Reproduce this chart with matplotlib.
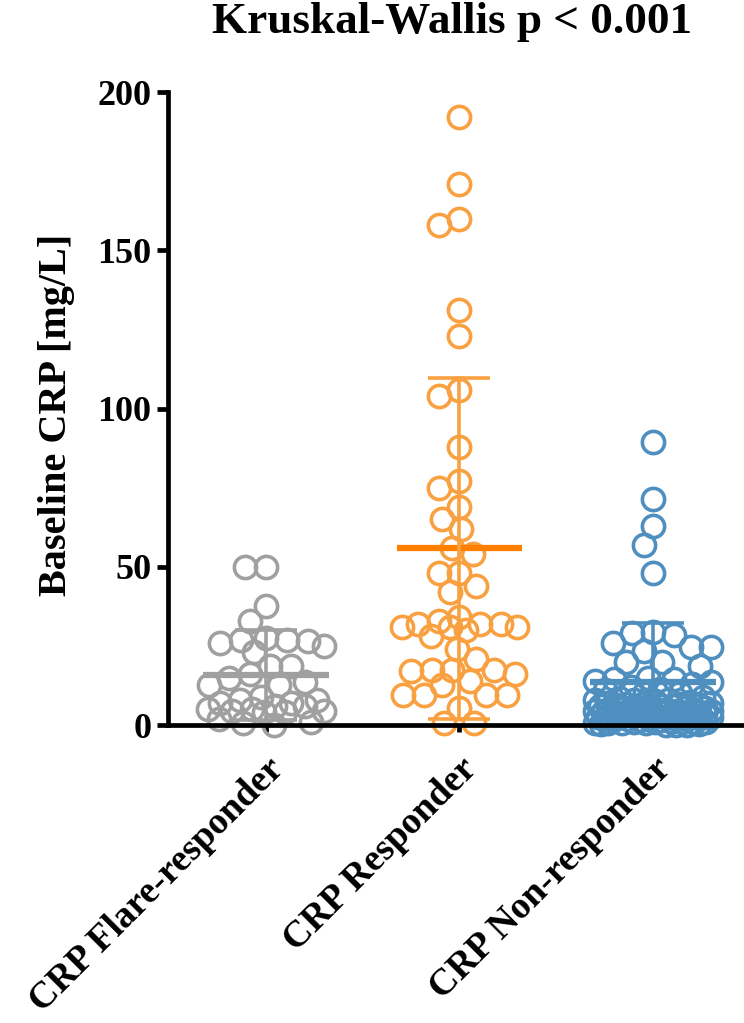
import numpy as np
from matplotlib import pyplot as plt

# Baseline CRP per response group, dot plot with mean +/- SD

groups = ['CRP Flare-responder', 'CRP Responder', 'CRP Non-responder']

flare = [50, 50, 37.5, 33, 27.5, 27, 26, 26.5, 27, 25, 23, 18.5, 18.5, 16, 15,
         12.5, 12.5, 13.5, 9, 8, 7, 6, 5, 4.5, 4, 4, 4.5, 5, 6, 7, 8, 2, 1, 0.5, 0]

responder = [192, 171, 160, 158, 131, 123, 106, 104, 88, 77, 75, 69, 65, 62,
             56, 54, 48, 48, 44, 42, 34, 32, 32, 31, 28, 24, 30, 31, 31, 32, 33,
             21, 17.5, 16, 17.5, 17, 17.5, 14, 12.5, 9.5, 9.5, 9.5, 9.5, 5.3,
             0.5, 0.5]

non_responder = [89.5, 71.5, 63, 57, 48, 28.5, 29.5, 29, 24.5, 23.5, 24.5, 26,
                 20, 20, 18.5, 15, 14.5, 13.5, 13, 14, 14.5, 12, 11, 11.5, 10.5,
                 10, 9, 8.5, 8, 8, 7.5, 7, 7, 6.5, 6.5, 6, 6, 6, 5.5, 5.5, 5, 5,
                 5, 5, 4.5, 4.5, 4.5, 4, 4, 4, 4, 3.5, 3.5, 3.5, 3, 3, 3, 3, 2.5,
                 2.5, 2.5, 2, 2, 2, 2, 1.5, 1.5, 1.5, 1, 1, 1, 1, 0.5, 0.5, 0.5,
                 0.5, 0.2, 0.2, 0.1, 0.1, 0, 7.8, 7.2, 6.8, 6.2, 5.8, 5.2, 4.8,
                 4.2, 3.8, 3.2, 2.8, 2.2, 1.8, 1.2, 0.8, 6.4, 5.6, 4.4, 3.6, 2.4]

# summary lines
means = [15.8, 55.8, 13.7]
sds = [14.2, 54.0, 18.6]

colors = ['#a0a0a0', '#f9a040', '#4f8fc0']
mean_colors = ['#a0a0a0', '#ff8000', '#4f8fc0']

# pixel scales of the figure (for the swarm layout)
px_per_y = 3.165
px_per_x = 194.0


def swarm(vals, d=21.0, maxw=58.0, step=1.0):
    vals = np.asarray(vals, dtype=float)
    xs = np.zeros(len(vals))
    placed = []
    cands = sorted(np.arange(-maxw, maxw + 0.01, step), key=abs)
    for i in np.argsort(-vals):
        y = vals[i] * px_per_y
        best = None
        bestd, bestc = -1, 0.0
        for c in cands:
            if not placed:
                best = c
                break
            p = np.array(placed)
            dist = np.min(np.hypot(p[:, 0] - c, p[:, 1] - y))
            if dist >= d:
                best = c
                break
            if dist > bestd:
                bestd, bestc = dist, c
        if best is None:
            best = bestc
        placed.append((best, y))
        xs[i] = best / px_per_x
    return xs


plt.rcParams['font.family'] = ['Liberation Serif', 'DejaVu Serif']
plt.rcParams['font.weight'] = 'bold'

fig = plt.figure(figsize=(7.44, 10.23), dpi=100)
ax = fig.add_axes([0.226, 0.2913, 0.774, 0.6187])

for k, vals in enumerate([flare, responder, non_responder]):
    off = swarm(vals)
    ax.plot(k + off, vals, 'o', ms=16, mfc='none', mec=colors[k], mew=2.6,
            clip_on=False, zorder=3)
    m, s = means[k], sds[k]
    ax.plot([k - 0.325, k + 0.325], [m, m], color=mean_colors[k], lw=4.5,
            solid_capstyle='butt', zorder=4)
    ax.plot([k, k], [max(m - s, 0), m + s], color=colors[k], lw=2.6, zorder=4)
    ax.plot([k - 0.16, k + 0.16], [m + s, m + s], color=colors[k], lw=2.6,
            solid_capstyle='butt', zorder=4)
    if m - s > 0:
        ax.plot([k - 0.16, k + 0.16], [m - s, m - s], color=colors[k], lw=2.6,
                solid_capstyle='butt', zorder=4)

ax.set_xlim(-0.505, 2.47)
ax.set_ylim(0, 200)
ax.set_yticks([0, 50, 100, 150, 200])
ax.set_xticks([0, 1, 2])
ax.set_xticklabels(groups, rotation=45, ha='right', rotation_mode='anchor',
                   fontsize=27, fontweight='bold')
for lab in ax.get_yticklabels():
    lab.set_fontsize(26)
    lab.set_fontweight('bold')

for sp in ['top', 'right']:
    ax.spines[sp].set_visible(False)
for sp in ['left', 'bottom']:
    ax.spines[sp].set_linewidth(3.4)
    ax.spines[sp].set_zorder(5)
ax.tick_params(axis='y', length=8, width=3.4, pad=4)
ax.tick_params(axis='x', length=5, width=3.4, pad=14)

fig.text(57 / 744, 1 - 415 / 1023, 'Baseline CRP [mg/L]', rotation=90,
         ha='center', va='center', fontsize=29, fontweight='bold')
fig.text(452 / 744, 1 - 22 / 1023, 'Kruskal-Wallis p < 0.001', ha='center',
         va='center', fontsize=32.5, fontweight='bold')

fig.savefig('out.png', dpi=100)
